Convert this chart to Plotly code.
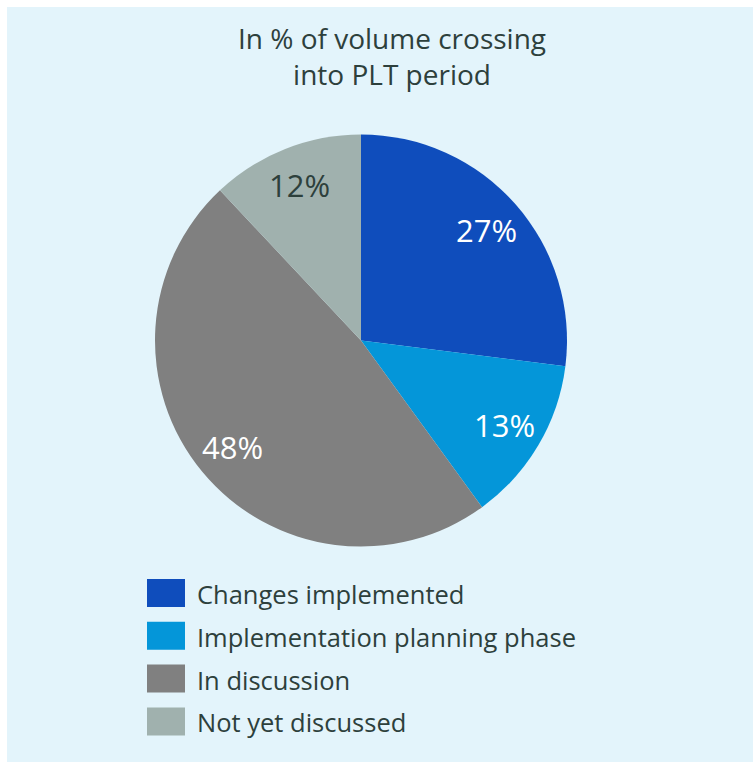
import math
import plotly.graph_objects as go

# ---- data ----
labels = ["Changes implemented", "Implementation planning phase", "In discussion", "Not yet discussed"]
values = [27, 13, 48, 12]
colors = ["#0F4DBC", "#0496D9", "#808080", "#A0B1AE"]
label_colors = ["#FFFFFF", "#FFFFFF", "#FFFFFF", "#2D403C"]
title_text = "In % of volume crossing<br>into PLT period"

# ---- layout constants ----
W, H = 753, 762
FONT = "Open Sans, Noto Sans, sans-serif"
TEXT = "#2D403C"
BG = "#E3F4FB"
cx, cy, R = 361, 340.5, 206

def px(x):
    return x / W

def py(y):
    return 1 - y / H

fig = go.Figure()
fig.add_trace(go.Pie(
    labels=labels, values=values, sort=False, direction="clockwise", rotation=0,
    marker=dict(colors=colors, line=dict(width=0)),
    textinfo="none", hoverinfo="label+percent", showlegend=False,
    domain=dict(x=[px(cx - R), px(cx + R)], y=[py(cy + R), py(cy - R)]),
))

shapes = [dict(type="rect", xref="paper", yref="paper", x0=px(7), x1=1, y0=0, y1=py(7),
               fillcolor=BG, line=dict(width=0), layer="below")]
annotations = [dict(text=title_text, x=px(392), y=py(17), xref="paper", yref="paper",
                    xanchor="center", yanchor="top", showarrow=False,
                    font=dict(family=FONT, size=28, color=TEXT))]

# slice labels at ~0.8R on mid-angle
total = sum(values)
cum = 0
for v, lc in zip(values, label_colors):
    mid = (cum + v / 2) / total * 2 * math.pi
    cum += v
    r = 0.81 * R
    x = cx + r * math.sin(mid)
    y = cy - r * math.cos(mid)
    annotations.append(dict(text=f"{round(v / total * 100)}%", x=px(x), y=py(y),
                            xref="paper", yref="paper", xanchor="center", yanchor="middle",
                            showarrow=False, font=dict(family=FONT, size=31, color=lc)))

# custom legend
for i, (lab, col) in enumerate(zip(labels, colors)):
    yc = 593 + i * 42.8
    shapes.append(dict(type="rect", xref="paper", yref="paper",
                       x0=px(147), x1=px(185), y0=py(yc + 14), y1=py(yc - 14),
                       fillcolor=col, line=dict(width=0)))
    annotations.append(dict(text=lab, x=px(195), y=py(yc + 1), xref="paper", yref="paper",
                            xanchor="left", yanchor="middle", showarrow=False,
                            font=dict(family=FONT, size=25.5, color=TEXT)))

fig.update_layout(
    width=W, height=H, margin=dict(l=0, r=0, t=0, b=0),
    paper_bgcolor="white", plot_bgcolor="white",
    shapes=shapes, annotations=annotations,
)

fig.write_html("out.html")
